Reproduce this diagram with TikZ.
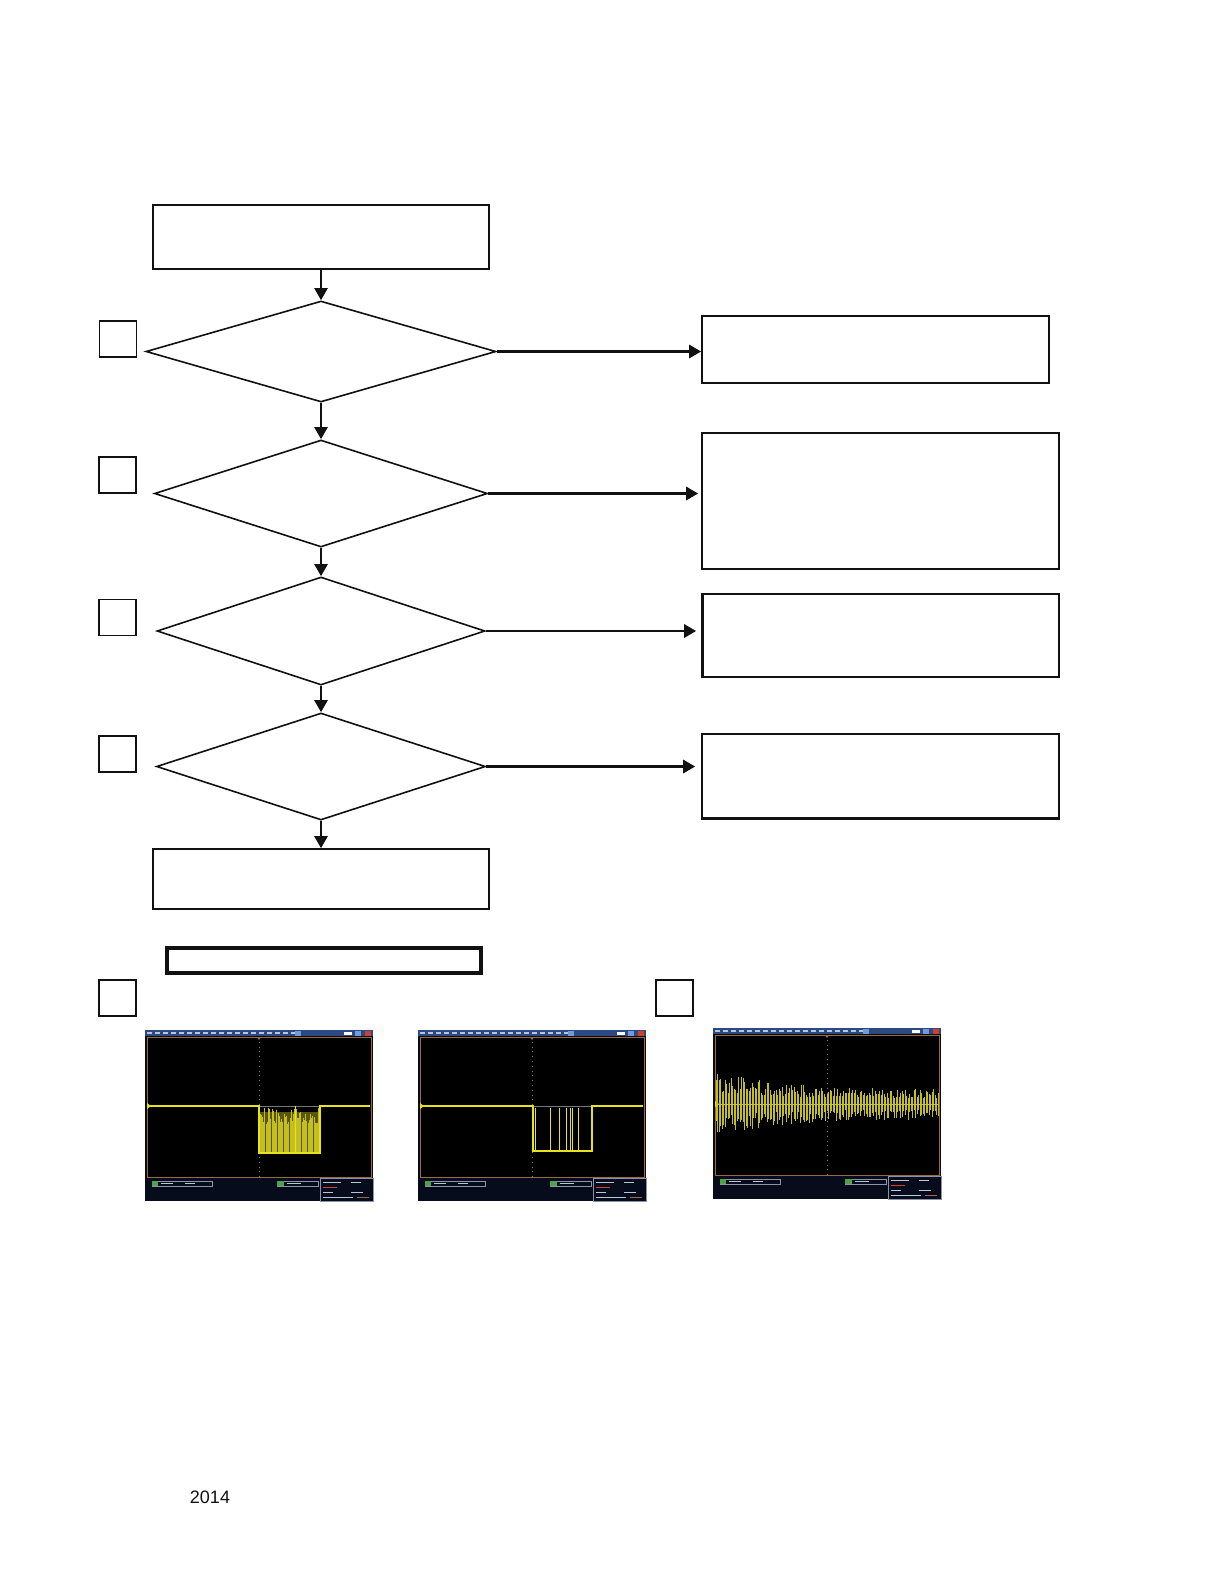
\documentclass[tikz,border=0pt]{standalone}
\usepackage{fontspec}
\setmainfont{Liberation Sans}
\usetikzlibrary{arrows.meta,shapes.geometric}
\definecolor{ink}{HTML}{111111}
\definecolor{scopebg}{HTML}{070C1C}
\definecolor{menubar}{HTML}{2B4A82}
\definecolor{menutext}{HTML}{B8C4DA}
\definecolor{btnblue}{HTML}{6F9BDA}
\definecolor{btnred}{HTML}{D0402E}
\definecolor{frameorange}{HTML}{9C6B3C}
\definecolor{trace}{HTML}{E8E21C}
\definecolor{tracedim}{HTML}{C4BE1E}
\definecolor{gridgray}{HTML}{777777}
\definecolor{panelline}{HTML}{8C93A6}
\definecolor{taggreen}{HTML}{4FA14A}

% frame of one scope capture, in local pixels (228 x 171)
\newcommand{\scopeframe}{%
  \fill[scopebg] (0,0) rectangle (228,171);
  \fill[menubar] (0,0) rectangle (228,6);
  \foreach \mx in {2,10,...,146}
    \draw[menutext,line width=0.6pt] (\mx,3) -- ++(5,0);
  \fill[btnblue] (150,0.5) rectangle (156,5.5);
  \fill[white] (199,2) rectangle (207,4.5);
  \fill[btnblue] (210,0.5) rectangle (216,5.5);
  \fill[btnred] (220,0.5) rectangle (226,5.5);
  \fill[black] (2,7) rectangle (226,147);
  \draw[frameorange,line width=0.5pt] (2,7) rectangle (226,147);
  \draw[gridgray,dotted,line width=0.4pt] (114,7) -- (114,147);
  \fill[frameorange] (112,7) -- (116,7) -- (114,10) -- cycle;
  \draw[panelline,line width=0.4pt] (7,151) rectangle (67,156);
  \fill[taggreen] (7,151) rectangle (13,156);
  \draw[menutext,line width=0.4pt] (16,153.5) -- ++(12,0) (40,153.5) -- ++(10,0);
  \draw[panelline,line width=0.4pt] (132,151) rectangle (173,156);
  \fill[taggreen] (132,151) rectangle (139,156);
  \draw[menutext,line width=0.4pt] (142,153.5) -- ++(14,0);
  \draw[panelline,line width=0.4pt] (175,148) rectangle (228,171);
  \draw[menutext,line width=0.5pt] (178,152) -- ++(18,0) (206,152) -- ++(10,0);
  \draw[btnred,line width=0.5pt] (178,157) -- ++(14,0);
  \draw[menutext,line width=0.5pt] (178,162) -- ++(10,0) (206,162) -- ++(12,0);
  \draw[menutext,line width=0.5pt] (178,167) -- ++(30,0);
  \draw[frameorange,line width=0.5pt] (212,167) -- ++(12,0);
  \fill[trace] (2,73) -- (6,76) -- (2,79) -- cycle;
}

\begin{document}
\begin{tikzpicture}[x=0.5pt,y=-0.5pt,
  box/.style={draw=ink,line width=0.8pt,inner sep=0pt},
  decision/.style={diamond,draw=ink,line width=0.8pt,inner sep=0pt},
  tag/.style={draw=ink,line width=0.9pt,inner sep=0pt,minimum width=18.5pt,minimum height=18pt},
  down/.style={draw=ink,-{Triangle[length=6pt,width=6.5pt]},line width=1.1pt},
  across/.style={draw=ink,-{Triangle[length=6pt,width=6.5pt]},line width=1.4pt}]
  \useasboundingbox (0,0) rectangle (1219,1587);

  % main column
  \node[box,minimum width=168pt,minimum height=32pt] (start) at (321,237) {};
  \node[decision,minimum width=175pt,minimum height=50.5pt] (q1) at (321,351.5) {};
  \node[decision,minimum width=166.5pt,minimum height=53.5pt] (q2) at (321,493.5) {};
  \node[decision,minimum width=164pt,minimum height=54pt] (q3) at (321,631) {};
  \node[decision,minimum width=164.5pt,minimum height=53.5pt] (q4) at (321,766.5) {};
  \node[box,minimum width=168pt,minimum height=30pt] (done) at (321,879) {};
  \node[box,line width=1.7pt,minimum width=157pt,minimum height=12.5pt] (note) at (324,960.5) {};

  % right column
  \node[box,minimum width=173.5pt,minimum height=33.5pt] (r1) at (875.5,349.5) {};
  \node[box,minimum width=178.5pt,minimum height=68pt] (r2) at (880.5,501) {};
  \node[box,minimum width=178pt,minimum height=41.5pt] (r3) at (881,635.5) {};
  \node[box,minimum width=178.5pt,minimum height=42pt] (r4) at (880.5,776) {};
  \draw[ink,line width=1.2pt] (r3.north west) -- (r3.south west);
  \draw[ink,line width=1.3pt] (r4.south west) -- (r4.south east);

  % step tags
  \node[tag] (t1) at (118,339) {};
  \node[tag] (t2) at (117.5,475) {};
  \node[tag] (t3) at (117.5,617.5) {};
  \node[tag] (t4) at (117.5,754) {};
  \node[tag] (t5) at (117.5,998) {};
  \node[tag] (t6) at (674.5,998) {};

  \draw[down] (start) -- (q1);
  \draw[down] (q1) -- (q2);
  \draw[down] (q2) -- (q3);
  \draw[down] (q3) -- (q4);
  \draw[down] (q4) -- (done);
  \draw[across] (q1.east) -- (q1.east -| r1.west);
  \draw[across,shorten >=1.5pt] (q2.east) -- (q2.east -| r2.west);
  \draw[across,shorten >=3pt] (q3.east) -- (q3.east -| r3.west);
  \draw[across,shorten >=3pt] (q4.east) -- (q4.east -| r4.west);

  % scope captures
  \begin{scope}[shift={(145,1030)}]
    \scopeframe
    \fill[tracedim!45!black] (114,82) rectangle (175,123);
    \pgfmathsetseed{12}
    \foreach \bx in {115,116.2,...,174.5}{
      \pgfmathsetmacro\top{78+16*rnd}
      \draw[tracedim,line width=0.4pt] (\bx,\top) -- (\bx,123);
    }
    \draw[gridgray,line width=0.3pt] (114,76) -- (175,76);
    \draw[trace,line width=0.4pt] (150,76) -- (150,123);
    \draw[trace,line width=1.2pt] (3,76) -- (114,76) -- (114,123) -- (175,123) -- (175,76) -- (225,76);
  \end{scope}

  \begin{scope}[shift={(418,1030)}]
    \scopeframe
    \draw[gridgray,line width=0.3pt] (114,76) -- (175,76);
    \foreach \sx in {117,132,141.3,148.7,152,154.7,160.3}
      \draw[trace,line width=0.5pt] (\sx,121) -- (\sx,78);
    \draw[trace,line width=1.2pt] (3,76) -- (114.7,76) -- (114.7,121) -- (173.7,121) -- (173.7,76) -- (225,76);
  \end{scope}

  \begin{scope}[shift={(713,1028)}]
    \scopeframe
    \pgfmathsetseed{41}
    \foreach \nx in {3,4.5,...,225}{
      \pgfmathsetmacro\amp{15+20*exp(-\nx/60)}
      \pgfmathsetmacro\up{76-\amp*(0.35+0.65*rnd)}
      \pgfmathsetmacro\dn{76+\amp*(0.35+0.65*rnd)}
      \draw[tracedim,line width=0.4pt] (\nx,\up) -- (\nx,\dn);
    }
    \draw[trace!70!gray,line width=0.3pt] (3,76) -- (225,76);
  \end{scope}

  \node[text=ink,font=\fontsize{9}{11}\selectfont] (year) at (210,1497) {2014};
\end{tikzpicture}
\end{document}
